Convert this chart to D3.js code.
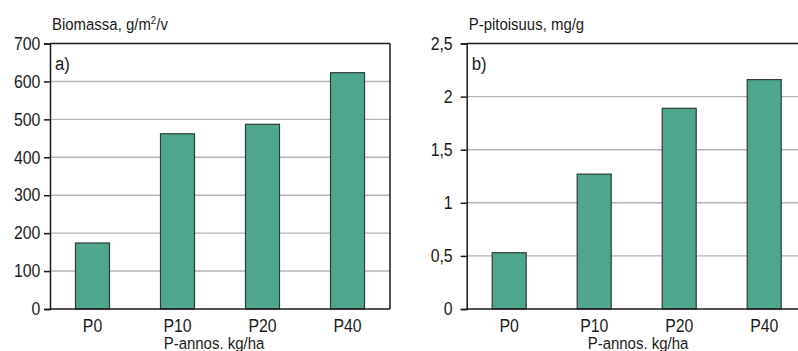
<!DOCTYPE html>
<html>
<head>
<meta charset="utf-8">
<script src="https://cdn.jsdelivr.net/npm/d3@7"></script>
<style>
  html, body { margin: 0; padding: 0; background: #fff; overflow: hidden; }
  svg { display: block; }
  text { font-family: "Liberation Sans", Arial, Helvetica, sans-serif; fill: #1a1a1a; }
</style>
</head>
<body>
<svg id="chart" width="798" height="351"></svg>
<script>
// Phosphorus dose treatments
const categories = ["P0", "P10", "P20", "P40"];
// a) annual biomass, g/m²/v
const biomassValues = [174, 462, 487, 623];
const biomassTicks = [0, 100, 200, 300, 400, 500, 600, 700];
// b) phosphorus content, mg/g
const pContentValues = [0.53, 1.27, 1.89, 2.16];
const pContentTicks = [0, 0.5, 1, 1.5, 2, 2.5];

const svg = d3.select("#chart");
const SX = 0.88; // horizontal condensing of the lettering

const fiFormat = v => String(v).replace(".", ",");

function panel(opts) {
  const { left, right, top, bottom, values, ticks, max, title, tag, tickPad, xTitleX } = opts;
  const g = svg.append("g");

  const x = d3.scaleBand().domain(categories).range([left, right])
    .paddingInner(0.6).paddingOuter(0.3);
  const y = d3.scaleLinear().domain([0, max]).range([bottom, top]);

  // horizontal gridlines
  g.append("g").selectAll("line")
    .data(ticks.filter(t => t > 0 && t < max))
    .join("line")
    .attr("x1", left).attr("x2", right)
    .attr("y1", d => y(d)).attr("y2", d => y(d))
    .attr("stroke", "#b4b4b4").attr("stroke-width", 1.4);

  // bars
  g.append("g").selectAll("rect")
    .data(values.map((v, i) => ({ c: categories[i], v })))
    .join("rect")
    .attr("x", d => x(d.c))
    .attr("width", x.bandwidth())
    .attr("y", d => y(d.v))
    .attr("height", d => y(0) - y(d.v))
    .attr("fill", "#4fa68f")
    .attr("stroke", "#2c3c36").attr("stroke-width", 1.2);

  // frame: top and right edges
  g.append("line").attr("x1", left).attr("x2", right).attr("y1", top).attr("y2", top)
    .attr("stroke", "#1a1a1a").attr("stroke-width", 1.5);
  g.append("line").attr("x1", right).attr("x2", right).attr("y1", top).attr("y2", bottom)
    .attr("stroke", "#1a1a1a").attr("stroke-width", 1.5);

  // y axis
  const ya = g.append("g").attr("transform", `translate(${left},0)`)
    .call(d3.axisLeft(y).tickValues(ticks).tickSize(6).tickPadding(tickPad).tickFormat(fiFormat));
  ya.select(".domain").attr("stroke", "#1a1a1a").attr("stroke-width", 1.5);
  ya.selectAll(".tick line").attr("stroke", "#1a1a1a").attr("stroke-width", 1.5);
  ya.selectAll(".tick text").attr("font-size", 18).attr("fill", "#1a1a1a")
    .attr("font-family", null)
    .attr("transform", `scale(${SX},1)`);

  // x axis
  const xa = g.append("g").attr("transform", `translate(0,${bottom})`)
    .call(d3.axisBottom(x).tickSize(0).tickPadding(10));
  xa.select(".domain").attr("stroke", "#1a1a1a").attr("stroke-width", 1.5)
    .attr("d", `M${left},0H${right}`);
  xa.selectAll(".tick text").attr("font-size", 18).attr("fill", "#1a1a1a")
    .attr("font-family", null)
    .attr("transform", `scale(${SX},1)`);

  // axis titles and panel tag
  const label = (tx, ty, txt, size, anchor) =>
    g.append("text")
      .attr("transform", `translate(${tx},${ty}) scale(${SX},1)`)
      .attr("font-size", size).attr("text-anchor", anchor || "start")
      .text(txt);

  const t = label(left + 2, 30, "", 17);
  t.append("tspan").text(title[0]);
  if (title[1]) {
    t.append("tspan").attr("font-size", 11).attr("dy", -6).text(title[1]);
    t.append("tspan").attr("dy", 6).text(title[2]);
  }
  label(xTitleX, 349, "P-annos. kg/ha", 17, "middle");
  label(left + 5, 70, tag, 19);
}

panel({
  left: 50, right: 390, top: 43.5, bottom: 309,
  values: biomassValues, ticks: biomassTicks, max: 700,
  title: ["Biomassa, g/m", "2", "/v"], tag: "a)", tickPad: 5, xTitleX: 214
});

panel({
  left: 466.7, right: 806.7, top: 43.5, bottom: 309,
  values: pContentValues, ticks: pContentTicks, max: 2.5,
  title: ["P-pitoisuus, mg/g"], tag: "b)", tickPad: 10, xTitleX: 638
});
</script>
</body>
</html>
